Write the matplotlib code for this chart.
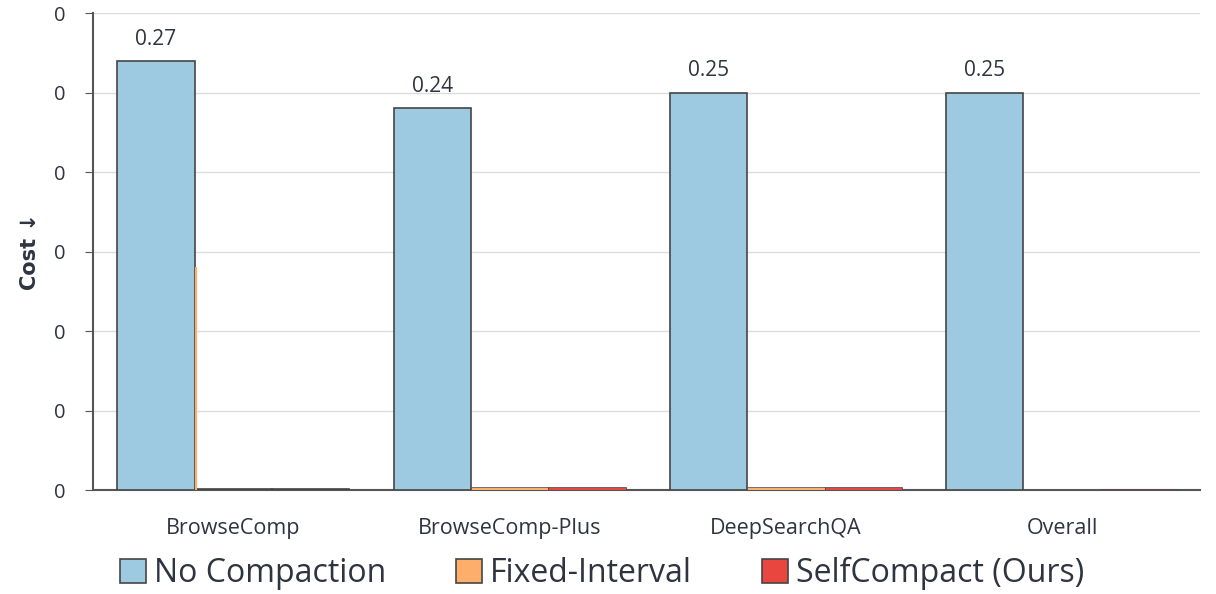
import matplotlib
matplotlib.use('Agg')

import numpy as np
import matplotlib.pyplot as plt
from matplotlib.ticker import FormatStrFormatter

categories = ['BrowseComp', 'BrowseComp-Plus', 'DeepSearchQA', 'Overall']
series = ['No Compaction', 'Fixed-Interval', 'SelfCompact (Ours)']
no_compaction = [0.27, 0.24, 0.25, 0.25]
fixed_interval = [0.0008, 0.002, 0.002, 0.0008]
self_compact = [0.0008, 0.002, 0.002, 0.0008]
# stray orange stroke next to the first group in the original
fixed_stroke = [0.14, 0, 0, 0]
bar_labels = ['0.27', '0.24', '0.25', '0.25']

colors = ['#9ecae1', '#fdae6b', '#e8463f']
txt = '#2e3440'
edge = '#454545'

plt.rcParams['font.family'] = ['Open Sans', 'DejaVu Sans']

fig, ax = plt.subplots(figsize=(12.16, 5.94), dpi=100)
fig.subplots_adjust(left=0.0765, right=0.987, top=0.978, bottom=0.175)

x = np.arange(len(categories))
w = 0.28
vals = [no_compaction, fixed_interval, self_compact]
for i, (name, v) in enumerate(zip(series, vals)):
    ax.bar(x + (i - 1) * w, v, w, color=colors[i], edgecolor=edge,
           linewidth=1.2 if i == 0 else 0.5, label=name, zorder=3)

ax.vlines(x - w / 2 + 0.003, 0, fixed_stroke, color=colors[1], lw=1.5, zorder=4)

for xi, v, lab in zip(x, no_compaction, bar_labels):
    ax.text(xi - w, v + 0.007, lab, ha='center', va='bottom', fontsize=15, color=txt)

ax.set_xlim(-0.508, 3.5)
ax.set_ylim(0, 0.30)
ax.set_yticks(np.arange(0, 0.301, 0.05))
ax.yaxis.set_major_formatter(FormatStrFormatter('%.0f'))
ax.set_xticks(x)
ax.set_xticklabels(categories, fontsize=15.5, color=txt)
ax.tick_params(axis='y', labelsize=14.5, labelcolor=txt, length=6, color='#555555', pad=14)
ax.tick_params(axis='x', length=0, pad=20)
ax.grid(axis='y', color='#dddddd', lw=1, zorder=0)
ax.set_axisbelow(True)
for s in ['top', 'right']:
    ax.spines[s].set_visible(False)
for s in ['left', 'bottom']:
    ax.spines[s].set_color('#555555')
    ax.spines[s].set_linewidth(1.5)

ax.set_ylabel('Cost \u2193', fontsize=15, fontweight='bold', color=txt,
              family=['DejaVu Sans'], labelpad=10)

handles, labels = ax.get_legend_handles_labels()
for h in handles:
    h.patches[0].set_linewidth(1.2)
fig.legend(loc='center', bbox_to_anchor=(0.495, 0.035), ncol=3, frameon=False,
           fontsize=23, handlelength=0.8, handleheight=0.8, handletextpad=0.25,
           columnspacing=2.2, labelcolor=txt)

plt.savefig('out.png', dpi=100)
